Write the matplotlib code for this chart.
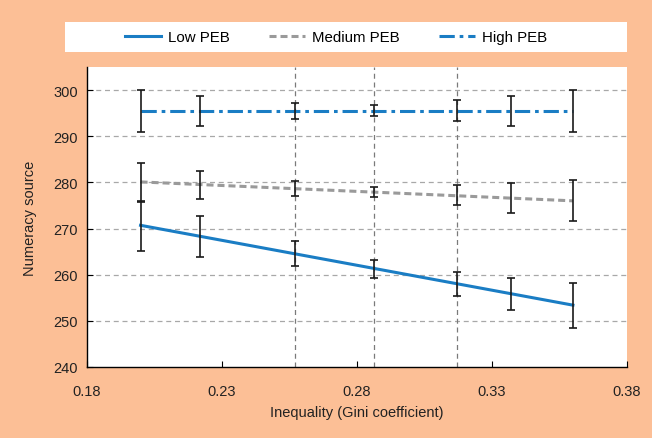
import matplotlib
matplotlib.use("Agg")
import matplotlib.pyplot as plt
import numpy as np

plt.rcParams['font.family'] = ['Liberation Sans', 'DejaVu Sans']

# data
gini = [0.200, 0.222, 0.257, 0.2865, 0.317, 0.337, 0.360]

low_mean = [270.6, 268.3, 264.5, 261.2, 257.9, 255.8, 253.3]
low_err = [5.4, 4.4, 2.7, 2.0, 2.6, 3.5, 4.8]
low_fit = [270.7, 253.4]

med_mean = [280.0, 279.4, 278.7, 277.9, 277.2, 276.6, 276.1]
med_err = [4.2, 3.1, 1.6, 1.0, 2.2, 3.2, 4.4]
med_fit = [280.1, 276.0]

high_mean = [295.5, 295.5, 295.5, 295.5, 295.5, 295.5, 295.5]
high_err = [4.5, 3.3, 1.7, 1.2, 2.3, 3.3, 4.5]
high_fit = [295.5, 295.5]

vlines = [0.257, 0.2865, 0.317]
xticks = [0.18, 0.23, 0.28, 0.33, 0.38]
yticks = [240, 250, 260, 270, 280, 290, 300]

bg = '#fcbf96'
blue = '#1a7dc4'
grey = '#9a9a9a'

fig = plt.figure(figsize=(6.52, 4.39), dpi=100, facecolor=bg)
ax = fig.add_axes([86.5 / 652, 1 - 368 / 439, (627 - 86.5) / 652, (368 - 68) / 439])
ax.set_xlim(0.18, 0.38)
ax.set_ylim(240, 305)

for y in yticks[1:]:
    ax.axhline(y, color='#a8a8a8', lw=0.9, ls=(0, (4, 3)), zorder=1)
for v in vlines:
    ax.axvline(v, color='#7a7a7a', lw=0.9, ls=(0, (4, 3)), zorder=1)

ends = [gini[0], gini[-1]]
l1, = ax.plot(ends, low_fit, color=blue, lw=2.2, zorder=3, label='Low PEB')
l2, = ax.plot(ends, med_fit, color=grey, lw=2.2, ls=(0, (2.3, 1.3)), zorder=3, label='Medium PEB')
l3, = ax.plot(ends, high_fit, color=blue, lw=2.2, ls=(0, (5, 1.6, 1.2, 1.6)), zorder=3, label='High PEB')

for m, e in [(low_mean, low_err), (med_mean, med_err), (high_mean, high_err)]:
    ax.errorbar(gini, m, yerr=e, fmt='none', ecolor='#1a1a1a', elinewidth=1.2,
                capsize=3, capthick=1.2, zorder=4)

for s in ['top', 'right']:
    ax.spines[s].set_visible(False)
for s in ['left', 'bottom']:
    ax.spines[s].set_linewidth(1.0)
ax.set_xticks(xticks)
ax.set_xticklabels(['%.2f' % t for t in xticks])
ax.set_yticks(yticks)
ax.tick_params(direction='in', length=4, labelsize=10.5, labelcolor='#222222', pad=6)
ax.tick_params(axis='x', pad=12)
ax.set_xlabel('Inequality (Gini coefficient)', fontsize=10.5, color='#222222', labelpad=5)
ax.set_ylabel('Numeracy source', fontsize=10.5, color='#222222', labelpad=12)

# legend band
band = plt.Rectangle((65 / 652, 1 - 52.7 / 439), (627 - 65) / 652, 30 / 439,
                     transform=fig.transFigure, facecolor='white', edgecolor='none')
fig.patches.append(band)
fig.legend(handles=[l1, l2, l3], loc='center', bbox_to_anchor=(336 / 652, 1 - 38 / 439),
           ncol=3, frameon=False, fontsize=10.8, handlelength=2.4, columnspacing=2.6,
           handletextpad=0.5)

fig.savefig('out.png', dpi=100, facecolor=bg)
